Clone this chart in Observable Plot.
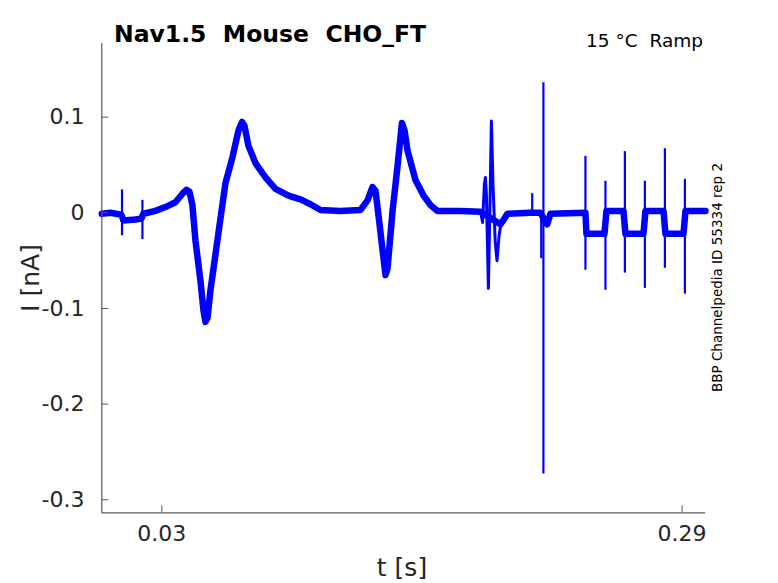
<!DOCTYPE html>
<html>
<head>
<meta charset="utf-8">
<script src="https://cdn.jsdelivr.net/npm/d3@7"></script>
<script src="https://cdn.jsdelivr.net/npm/@observablehq/plot@0.6"></script>
<style>
  html, body { margin: 0; padding: 0; background: white; }
  #chart { position: relative; width: 778px; height: 583px; }
</style>
</head>
<body>
<div id="chart"></div>
<script>
// Main current trace (time in s, current in nA)
const traceT = [0.0000, 0.0043, 0.0098, 0.0108, 0.0168, 0.0198, 0.0208, 0.0268, 0.0318, 0.0368, 0.0403, 0.0423, 0.0438, 0.0453, 0.0468, 0.0493, 0.0508, 0.0518, 0.0528, 0.0543, 0.0583, 0.0618, 0.0653, 0.0683, 0.0701, 0.0713, 0.0733, 0.0768, 0.0818, 0.0868, 0.0933, 0.0993, 0.1043, 0.1093, 0.1193, 0.1293, 0.1328, 0.1353, 0.1368, 0.1383, 0.1403, 0.1418, 0.1428, 0.1453, 0.1477, 0.1500, 0.1513, 0.1528, 0.1568, 0.1608, 0.1643, 0.1678, 0.1793, 0.1893, 0.1992, 0.2012, 0.2027, 0.2142, 0.2192, 0.2226, 0.2242, 0.2417, 0.2422, 0.2512, 0.2522, 0.2607, 0.2617, 0.2707, 0.2717, 0.2807, 0.2817, 0.2907, 0.2917, 0.3017];
const traceI = [-0.001, 0.000, -0.002, -0.008, -0.007, -0.006, -0.001, 0.002, 0.006, 0.011, 0.020, 0.024, 0.022, 0.008, -0.029, -0.071, -0.102, -0.114, -0.110, -0.081, -0.021, 0.031, 0.058, 0.086, 0.095, 0.091, 0.070, 0.052, 0.037, 0.025, 0.018, 0.014, 0.009, 0.003, 0.002, 0.003, 0.013, 0.027, 0.023, -0.003, -0.039, -0.065, -0.058, 0.002, 0.047, 0.094, 0.086, 0.065, 0.034, 0.018, 0.008, 0.002, 0.002, 0.001, -0.012, -0.006, -0.001, 0.000, 0.000, -0.012, -0.001, 0.000, -0.022, -0.022, 0.002, 0.002, -0.022, -0.022, 0.002, 0.002, -0.022, -0.022, 0.002, 0.002];

// Fast oscillation burst around 0.19 s
const burstT = [0.1893, 0.1903, 0.1912, 0.1917, 0.1922, 0.1932, 0.1940, 0.1947, 0.1955, 0.1966, 0.1975, 0.1985, 0.1992];
const burstI = [0.001, -0.010, 0.030, 0.037, 0.020, -0.079, 0.010, 0.096, 0.030, -0.030, -0.050, -0.025, -0.015];

// Narrow transients (time, low, high)
const spikeT  = [0.0101, 0.0203, 0.2151, 0.2196, 0.2207, 0.2417, 0.2517, 0.2614, 0.2714, 0.2814, 0.2914];
const spikeLo = [-0.024, -0.028, 0.000, -0.048, -0.273, -0.060, -0.081, -0.063, -0.079, -0.058, -0.085];
const spikeHi = [0.024, 0.013, 0.020, 0.000, 0.136, 0.059, 0.033, 0.064, 0.033, 0.067, 0.035];

const xTicks = [0.03, 0.29];
const xTickLabels = ["0.03", "0.29"];
const yTicks = [0.1, 0, -0.1, -0.2, -0.3];
const yTickLabels = ["0.1", "0", "-0.1", "-0.2", "-0.3"];

const xDomain = [0, 0.3017];
const yDomain = [-0.3136, 0.177];

const trace = traceT.map((t, i) => ({t, I: traceI[i]}));
const burst = burstT.map((t, i) => ({t, I: burstI[i]}));
const spikes = spikeT.map((t, i) => ({t, lo: spikeLo[i], hi: spikeHi[i]}));

const blue = "#0000ff";
const axisColor = "#5a5a5a";

const chart = Plot.plot({
  width: 778,
  height: 583,
  marginLeft: 101.3,
  marginRight: 73,
  marginTop: 43,
  marginBottom: 70.7,
  style: {fontFamily: "DejaVu Sans", fontSize: "22px", color: "#262626", background: "white"},
  x: {domain: xDomain},
  y: {domain: yDomain},
  marks: [
    Plot.line(trace, {x: "t", y: "I", stroke: blue, strokeWidth: 6.5, strokeLinejoin: "round", strokeLinecap: "round"}),
    Plot.line(burst, {x: "t", y: "I", stroke: blue, strokeWidth: 3, strokeLinejoin: "round"}),
    Plot.ruleX(spikes, {x: "t", y1: "lo", y2: "hi", stroke: blue, strokeWidth: 2.2}),
    Plot.ruleX([xDomain[0]], {stroke: axisColor, strokeWidth: 1.2}),
    Plot.ruleY([yDomain[0]], {stroke: axisColor, strokeWidth: 1.2}),
    Plot.axisX(xTicks, {tickSize: -7, tickPadding: 19.7, tickFormat: (d, i) => xTickLabels[i], label: null, stroke: axisColor, fill: "#262626", fontSize: 22}),
    Plot.axisY(yTicks, {tickSize: -7, tickPadding: 24.3, tickFormat: (d, i) => yTickLabels[i], label: null, stroke: axisColor, fill: "#262626", fontSize: 22})
  ]
});

document.getElementById("chart").appendChild(chart);

const svg = d3.select(chart);
function addText(x, y, txt, opts) {
  const el = svg.append("text")
    .attr("x", x).attr("y", y)
    .attr("font-family", "DejaVu Sans")
    .attr("font-size", opts.size)
    .attr("fill", opts.fill || "#262626")
    .attr("text-anchor", opts.anchor || "start")
    .text(txt);
  if (opts.weight) el.attr("font-weight", opts.weight);
  if (opts.rotate) el.attr("transform", `rotate(${opts.rotate},${x},${y})`);
  return el;
}
addText(114, 41.7, "Nav1.5  Mouse  CHO_FT", {size: 23.5, weight: "bold", fill: "#000"});
addText(703, 47, "15 °C  Ramp", {size: 18.5, anchor: "end", fill: "#000"});
addText(722, 277.5, "BBP Channelpedia ID 55334 rep 2", {size: 13.5, anchor: "middle", rotate: -90, fill: "#000"});
addText(39, 278, "I [nA]", {size: 25, anchor: "middle", rotate: -90});
addText(402, 576, "t [s]", {size: 25, anchor: "middle"});
</script>
</body>
</html>
